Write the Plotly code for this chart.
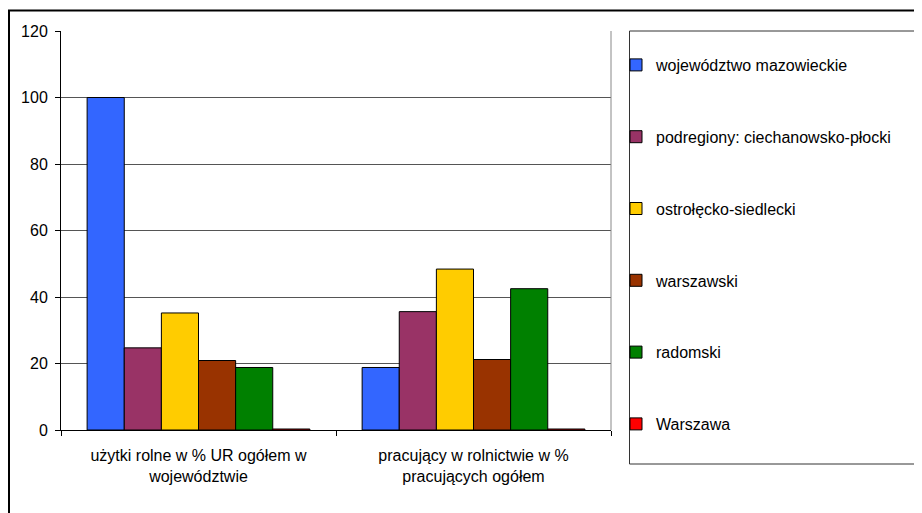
import plotly.graph_objects as go

categories = [
    'użytki rolne w % UR ogółem w<br>województwie',
    'pracujący w rolnictwie w %<br>pracujących ogółem',
]
regions = [
    'województwo mazowieckie',
    'podregiony: ciechanowsko-płocki',
    'ostrołęcko-siedlecki',
    'warszawski',
    'radomski',
    'Warszawa',
]
values = {
    'województwo mazowieckie': [100.0, 18.8],
    'podregiony: ciechanowsko-płocki': [24.7, 35.6],
    'ostrołęcko-siedlecki': [35.2, 48.4],
    'warszawski': [20.9, 21.2],
    'radomski': [18.8, 42.5],
    'Warszawa': [0.3, 0.3],
}
colors = ['#3366FF', '#993366', '#FFCC00', '#993300', '#008000', '#FF0000']

# page body has an 8px margin, so figure px = window px - 8
W, H = 914, 505
L, R, T, B = 53, 603, 23, 422  # plot area in figure px


def px_x(x):
    return (x - L) / (R - L)


def px_y(y):
    return (B - y) / (B - T)


fig = go.Figure()
for i, reg in enumerate(regions):
    fig.add_trace(go.Bar(
        x=categories,
        y=values[reg],
        name=reg,
        legendgroup=reg,
        marker=dict(color=colors[i], line=dict(color='black', width=1)),
    ))

fig.update_layout(
    width=W, height=H,
    margin=dict(l=L, r=W - R, t=T, b=H - B, autoexpand=False),
    paper_bgcolor='white', plot_bgcolor='white',
    font=dict(family='Liberation Sans, Arial, sans-serif', size=16, color='black'),
    barmode='group', bargap=0.19, bargroupgap=0,
    legend=dict(
        x=px_x(608), y=px_y(40), xanchor='left', yanchor='top',
        borderwidth=0, bgcolor='rgba(0,0,0,0)',
        traceorder='grouped', tracegroupgap=48,
        font=dict(size=16),
    ),
    showlegend=True,
)
fig.update_yaxes(
    range=[0, 120], dtick=20, showgrid=True, gridcolor='#555', gridwidth=1,
    showline=True, linecolor='black', linewidth=1,
    ticks='outside', ticklen=5, tickcolor='black', zeroline=False,
    ticklabelstandoff=4,
)
fig.update_xaxes(
    showline=True, linecolor='black', linewidth=1,
    ticks='outside', ticklen=5, tickcolor='black', tickson='boundaries',
    ticklabelstandoff=11,
)

# plot-area right border
fig.add_shape(type='line', xref='paper', yref='paper', x0=1, x1=1, y0=0, y1=1,
              line=dict(color='#888', width=1))
# legend frame
fig.add_shape(type='rect', xref='paper', yref='paper',
              x0=px_x(621.5), x1=px_x(1000), y0=px_y(456), y1=px_y(23),
              line=dict(color='#333', width=1), layer='below')
# outer chart frame
fig.add_shape(type='rect', xref='paper', yref='paper',
              x0=px_x(1), x1=px_x(1000), y0=px_y(560), y1=px_y(2.5),
              line=dict(color='black', width=2))

fig.write_html('out.html')
